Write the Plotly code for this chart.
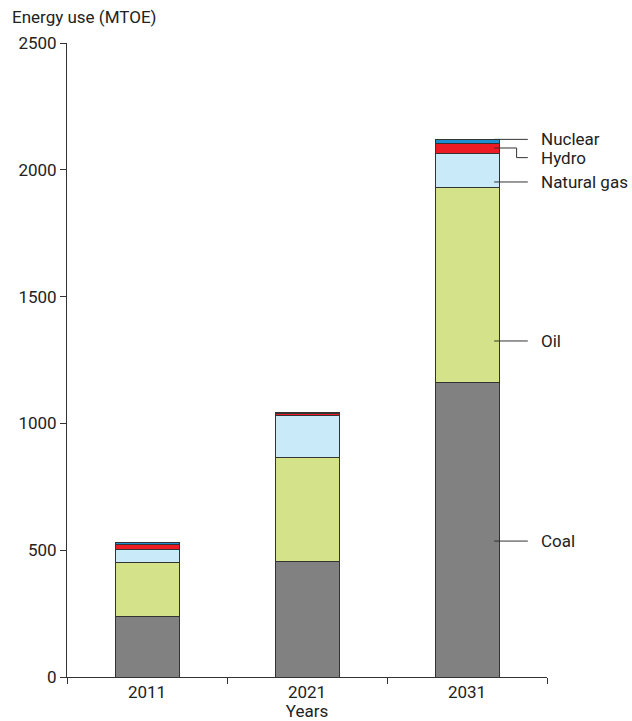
import plotly.graph_objects as go

years = ["2011", "2021", "2031"]
coal = [240, 457, 1163]
oil = [213, 410, 769]
natural_gas = [50, 164, 133]
hydro = [20, 10, 39]
nuclear = [6, 2, 17]

series = [
    ("Coal", coal, "#818181"),
    ("Oil", oil, "#d4e38a"),
    ("Natural gas", natural_gas, "#c9eaf9"),
    ("Hydro", hydro, "#ed1c24"),
    ("Nuclear", nuclear, "#1b8fd2"),
]

FONT = "Roboto"
FS = 17
TXT = "#222222"

fig = go.Figure()
for name, vals, col in series:
    fig.add_trace(go.Bar(
        x=years, y=vals, name=name, width=0.4,
        marker=dict(color=col, line=dict(color="#333333", width=1)),
    ))

# label positions (value units) for leader lines on last bar
label_y = {"Coal": 536, "Oil": 1325, "Natural gas": 1952, "Hydro": 2048, "Nuclear": 2120}

last = len(years) - 1
x0 = last + 0.17
x1 = last + 0.38
xt = last + 0.45
shapes = []
annos = []
for name in ["Coal", "Oil", "Natural gas", "Nuclear"]:
    yv = label_y[name]
    shapes.append(dict(type="line", xref="x", yref="y", x0=x0, x1=x1, y0=yv, y1=yv,
                       line=dict(color="#333333", width=1)))
# Hydro elbow
hy_bar = 2086
xe = last + 0.31
shapes.append(dict(type="line", xref="x", yref="y", x0=x0, x1=xe, y0=hy_bar, y1=hy_bar,
                   line=dict(color="#333333", width=1)))
shapes.append(dict(type="line", xref="x", yref="y", x0=xe, x1=xe, y0=hy_bar, y1=label_y["Hydro"],
                   line=dict(color="#333333", width=1)))
shapes.append(dict(type="line", xref="x", yref="y", x0=xe, x1=x1, y0=label_y["Hydro"], y1=label_y["Hydro"],
                   line=dict(color="#333333", width=1)))

for name in ["Coal", "Oil", "Natural gas", "Hydro", "Nuclear"]:
    annos.append(dict(x=xt, y=label_y[name], xref="x", yref="y", text=name, showarrow=False,
                      xanchor="left", yanchor="middle", font=dict(family=FONT, size=FS, color=TXT)))

annos.append(dict(x=(10 - 67) / 480, y=1.0, xref="paper", yref="paper", text="Energy use (MTOE)",
                  showarrow=False, xanchor="left", yanchor="bottom", yshift=14,
                  font=dict(family=FONT, size=FS, color=TXT)))

fig.update_layout(
    barmode="stack",
    width=632, height=721,
    margin=dict(l=67, r=85, t=43, b=44),
    paper_bgcolor="white", plot_bgcolor="white",
    showlegend=False,
    shapes=shapes,
    annotations=annos,
    font=dict(family=FONT, size=FS, color=TXT),
    xaxis=dict(
        type="category", range=[-0.5, 2.5], automargin=False,
        showline=True, linecolor="#333333", linewidth=1,
        ticks="outside", tickson="boundaries", ticklen=6, tickcolor="#333333",
        showgrid=False,
        title=dict(text="Years", standoff=4, font=dict(family=FONT, size=FS, color=TXT)),
        tickfont=dict(family=FONT, size=FS, color=TXT),
    ),
    yaxis=dict(
        range=[0, 2500], tickvals=[0, 500, 1000, 1500, 2000, 2500], automargin=False,
        showline=True, linecolor="#333333", linewidth=1,
        ticks="outside", ticklen=6, tickcolor="#333333",
        showgrid=False, zeroline=False,
        tickfont=dict(family=FONT, size=FS, color=TXT),
    ),
)

fig.write_html("out.html",
               config={"displayModeBar": False},
               post_script="document.body.style.margin='0';document.body.style.overflow='hidden';")
